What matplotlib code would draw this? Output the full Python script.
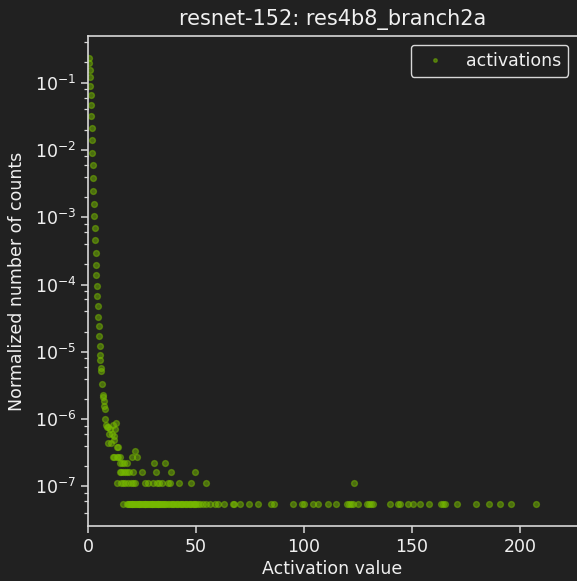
import matplotlib
matplotlib.use("Agg")
import matplotlib.pyplot as plt
import numpy as np
from matplotlib.ticker import LogLocator, NullFormatter

TITLE = "resnet-152: res4b8_branch2a"
XLABEL = "Activation value"
YLABEL = "Normalized number of counts"
LEGEND_LABEL = "activations"

# Histogram bins near zero: bin centre and raw count
head_x = [0.46, 0.60, 0.79, 0.93, 1.06, 1.25, 1.39, 1.53, 1.71, 1.85, 1.99,
          2.18, 2.31, 2.45, 2.78, 2.92, 3.10, 3.24, 3.56, 3.70, 3.84, 4.17,
          4.31, 4.63, 4.77, 4.95, 5.23, 5.42, 5.56, 5.69, 5.88, 6.16, 6.48,
          6.81, 6.94, 7.30, 7.50, 7.87]
head_counts = [4190000, 3530000, 2810000, 2230000, 1640000, 1205000, 847000,
               582000, 386000, 256000, 166000, 108000, 69800, 44800, 29000,
               18900, 12400, 8200, 5260, 3570, 2510, 1740, 1210, 871, 604,
               440, 316, 219, 165, 139, 104, 93, 60, 42, 38, 34, 28, 26]

# Sparse bins in the elbow: bin centre and raw count
elbow_x = [7.95, 8.33, 8.66, 9.40, 10.19, 11.55, 12.82, 12.50, 9.72, 10.97,
           11.85, 12.20, 9.30, 10.65, 13.29, 14.03, 21.60]
elbow_counts = [18, 15, 14, 14, 13, 15, 16, 13, 11, 11,
                10, 9, 8, 8, 7, 7, 6]

# Tail bins grouped by their raw count
x_count5 = [11.4, 12.0, 13.3, 14.0, 14.8, 20.5, 22.5]
x_count4 = [14.8, 15.6, 16.8, 17.9, 30.7, 35.6]
x_count3 = [14.8, 15.5, 16.3, 17.2, 17.9, 19.1, 21.0, 24.9, 31.7, 38.4, 49.5]
x_count2 = [13.6, 15.1, 16.2, 17.1, 18.7, 19.8, 21.0, 21.8, 26.4, 27.9, 29.9,
            31.8, 33.0, 34.1, 37.2, 38.0, 42.1, 47.5, 54.6, 123.3]
x_count1 = [16.3, 18.2, 18.6, 19.0, 19.4, 19.8, 20.2, 20.6, 21.0, 21.4, 21.8,
            22.2, 22.6, 23.0, 23.4, 23.8, 24.2, 24.6, 25.0, 25.4, 25.8, 26.2,
            26.6, 27.0, 27.4, 27.8, 28.2, 28.6, 29.0, 29.4, 29.8, 30.2, 30.6,
            31.0, 31.4, 31.8, 32.2, 32.6, 33.0, 33.4, 33.8, 34.3, 34.8, 35.3,
            35.8, 36.3, 37.0, 37.6, 38.2, 38.8, 39.4, 40.0, 40.6, 41.2, 41.8,
            42.4, 43.0, 43.6, 44.2, 44.8, 45.4, 46.0, 46.6, 47.2, 47.8, 48.4,
            49.0, 49.6, 50.2, 51.0, 51.9, 53.2, 54.6, 56.5, 58.8, 60.3, 63.0,
            67.0, 67.5, 70.4, 74.5, 78.8, 84.6, 86.1, 95.0, 98.9, 100.0,
            104.3, 106.6, 111.3, 114.7, 119.8, 120.8, 121.8, 122.8, 125.1,
            129.0, 130.1, 131.0, 132.1, 139.8, 143.7, 144.4, 148.3, 150.3,
            153.7, 157.7, 163.3, 164.4, 165.3, 171.0, 179.5, 185.6, 190.7,
            195.7, 207.4]

tail_groups = [(x_count5, 5), (x_count4, 4), (x_count3, 3),
               (x_count2, 2), (x_count1, 1)]

xs = list(head_x) + list(elbow_x)
cs = list(head_counts) + list(elbow_counts)
for grp, c in tail_groups:
    xs += grp
    cs += [c] * len(grp)
xs = np.array(xs, dtype=float)
cs = np.array(cs, dtype=float)
ys = cs / cs.sum()

BG = "#212121"
FG = "#f0f0f0"
SPINE = "#d8d8d8"
GREEN = "#76b900"

plt.rcParams.update({
    "font.family": "DejaVu Sans",
    "font.size": 12.5,
    "text.color": FG,
    "axes.labelcolor": FG,
    "xtick.color": SPINE,
    "ytick.color": SPINE,
    "xtick.labelcolor": FG,
    "ytick.labelcolor": FG,
})

fig = plt.figure(figsize=(5.77, 5.81), dpi=100, facecolor=BG)
ax = fig.add_axes([88 / 577, 1 - 526 / 581, (577 - 88) / 577, (526 - 36) / 581])
ax.set_facecolor(BG)

ax.plot(xs, ys, "o", color=GREEN, alpha=0.5, ms=4.2, mew=1.0,
        label=LEGEND_LABEL)

ax.set_yscale("log")
ax.set_xlim(0, 226.4)
ax.yaxis.set_minor_locator(LogLocator(base=10, subs=(2, 4, 6, 8), numticks=30))
ax.yaxis.set_minor_formatter(NullFormatter())

for side in ("left", "bottom", "top"):
    ax.spines[side].set_color(SPINE)
    ax.spines[side].set_linewidth(1.2)
ax.spines["right"].set_visible(False)

ax.tick_params(which="major", length=5, width=1.1)
ax.tick_params(which="minor", length=3, width=0.9)

ax.set_title(TITLE, fontsize=15, color=FG, pad=8)
ax.set_xlabel(XLABEL, labelpad=3)
ax.set_ylabel(YLABEL, labelpad=6)

leg = ax.legend(loc="upper right", markerscale=0.6, facecolor=BG,
                edgecolor=SPINE, framealpha=1.0)
for t in leg.get_texts():
    t.set_color(FG)

fig.savefig("out.png", dpi=100, facecolor=BG)
